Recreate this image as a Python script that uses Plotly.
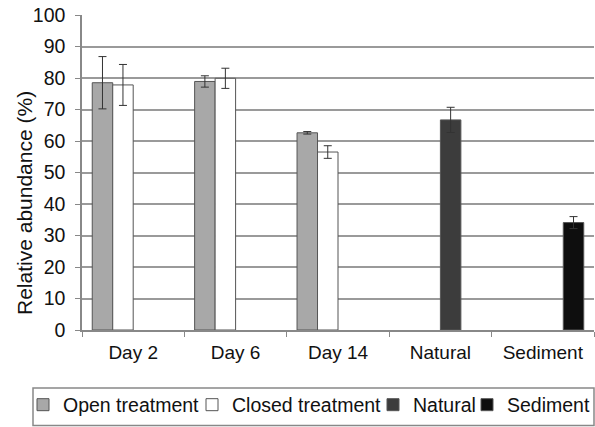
import plotly.graph_objects as go

categories = ["Day 2", "Day 6", "Day 14", "Natural", "Sediment"]
open_vals = [78.5, 78.9, 62.6, None, None]
open_err = [8.3, 1.8, 0.4, None, None]
closed_vals = [77.8, 79.9, 56.5, None, None]
closed_err = [6.5, 3.2, 2.0, None, None]
natural_vals = [None, None, None, 66.7, None]
natural_err = [None, None, None, 4.0, None]
sediment_vals = [None, None, None, None, 34.1]
sediment_err = [None, None, None, None, 1.9]
y_ticks = list(range(0, 101, 10))

series = [
    ("Open treatment", open_vals, open_err, "#a8a8a8", "legend"),
    ("Closed treatment", closed_vals, closed_err, "#ffffff", "legend2"),
    ("Natural", natural_vals, natural_err, "#3c3c3c", "legend3"),
    ("Sediment", sediment_vals, sediment_err, "#0e0e0e", "legend4"),
]

fig = go.Figure()
for name, vals, errs, color, leg in series:
    fig.add_trace(go.Bar(
        name=name, x=categories, y=vals, legend=leg, showlegend=True,
        marker=dict(color=color, line=dict(color="#555555", width=1)),
        error_y=dict(type="data", array=errs, visible=True,
                     color="#333333", thickness=1, width=4),
    ))

font = "Liberation Sans, Arial, sans-serif"
W, H = 595, 427
ML, MR, MT, MB = 82, 1, 15, 97
leg_y = 1 - 405 / H


def leg(xpx):
    return dict(orientation="h", xref="container", yref="container",
                x=xpx / W, y=leg_y, xanchor="left", yanchor="middle",
                borderwidth=0, bgcolor="rgba(0,0,0,0)",
                font=dict(size=19.5), itemwidth=30, visible=True)


fig.update_layout(
    width=W, height=H, showlegend=True,
    margin=dict(l=ML, r=MR, t=MT, b=MB, autoexpand=False),
    paper_bgcolor="white", plot_bgcolor="white",
    barmode="group", bargap=0.2, bargroupgap=0,
    font=dict(family=font, size=19, color="#111111"),
    xaxis=dict(
        type="category", tickson="boundaries", ticks="outside", ticklen=5,
        tickcolor="#888888", showline=True, linecolor="#888888", linewidth=1.5,
        tickfont=dict(size=19), showgrid=False, ticklabelstandoff=4,
    ),
    yaxis=dict(
        range=[0, 100], tickvals=y_ticks, ticks="outside", ticklen=5,
        tickcolor="#888888", showline=True, linecolor="#888888", linewidth=1.5,
        showgrid=True, gridcolor="#9a9a9a", gridwidth=1.5,
        tickfont=dict(size=19.5), zeroline=False, ticklabelstandoff=6,
    ),
    legend=leg(23),
    legend2=leg(192),
    legend3=leg(373),
    legend4=leg(467),
)

pw, ph = W - ML - MR, H - MT - MB
fig.add_annotation(
    text="Relative abundance (%)", textangle=-90, showarrow=False,
    xref="paper", yref="paper", x=(24 - ML) / pw, y=(H - MB - 203) / ph,
    xanchor="center", yanchor="middle", font=dict(size=21),
)
fig.add_shape(
    type="rect", xref="paper", yref="paper",
    x0=(33 - ML) / pw, x1=(594 - ML) / pw,
    y0=(H - MB - 425.5) / ph, y1=(H - MB - 388) / ph,
    line=dict(color="#888888", width=1.5), fillcolor="rgba(0,0,0,0)",
    layer="above",
)

fig.write_html("out.html", config={"displayModeBar": False},
               post_script="document.body.style.margin='0px';")
